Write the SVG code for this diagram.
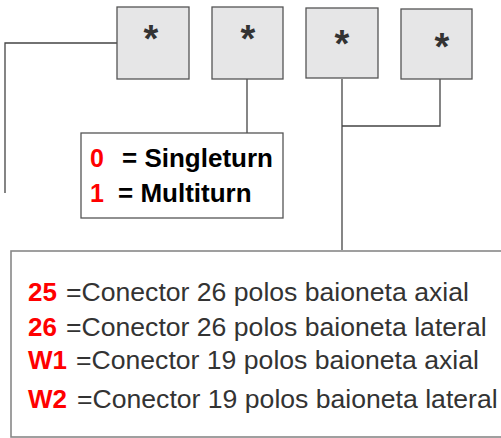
<svg xmlns="http://www.w3.org/2000/svg" width="501" height="438" viewBox="0 0 501 438">
  <style>
    .digit { fill: #e6e6e7; stroke: #555; stroke-width: 1.3; }
    .star { font-family: "Liberation Sans", Arial, sans-serif; font-weight: bold; font-size: 38px; fill: #333; text-anchor: middle; }
    .wire { fill: none; stroke: #444; stroke-width: 1.3; }
    .legend { fill: #fff; stroke: #555; stroke-width: 1.3; }
    .legend2 { fill: #fff; stroke: #888; stroke-width: 1.6; }
    .code { font-family: "Liberation Sans", Arial, sans-serif; font-weight: bold; fill: #ff0000; }
    .bold { font-family: "Liberation Sans", Arial, sans-serif; font-weight: bold; fill: #000; font-size: 26px; }
    .desc { font-family: "Liberation Sans", Arial, sans-serif; fill: #333; font-size: 26.6px; }
  </style>

  <!-- connectors -->
  <g id="connectors">
    <polyline class="wire" points="117,43 5,43 5,193"/>
    <line class="wire" x1="247" y1="79" x2="247" y2="133"/>
    <line class="wire" x1="342" y1="79" x2="342" y2="250"/>
    <polyline class="wire" points="440,79 440,126 342,126"/>
  </g>

  <!-- code position boxes -->
  <g id="pos1">
    <rect class="digit" x="117" y="7" width="72" height="72"/>
    <text class="star" x="151" y="52">*</text>
  </g>
  <g id="pos2">
    <rect class="digit" x="212" y="7" width="71" height="72"/>
    <text class="star" x="248" y="52">*</text>
  </g>
  <g id="pos3">
    <rect class="digit" x="306" y="8" width="72" height="70"/>
    <text class="star" x="342" y="57">*</text>
  </g>
  <g id="pos4">
    <rect class="digit" x="401" y="9" width="71" height="70"/>
    <text class="star" x="442" y="60">*</text>
  </g>

  <!-- turn type legend -->
  <g id="turns">
    <rect class="legend" x="81" y="133" width="202" height="85"/>
    <text class="code" x="90" y="167" font-size="25">0</text>
    <text class="bold" x="122" y="167">= Singleturn</text>
    <text class="code" x="90" y="202" font-size="25">1</text>
    <text class="bold" x="118" y="202">= Multiturn</text>
  </g>

  <!-- connector legend -->
  <g id="connectors-legend">
    <rect class="legend2" x="11" y="251" width="500" height="186"/>
    <text class="code" x="28" y="301" font-size="26">25</text>
    <text class="desc" x="66" y="301">=Conector 26 polos baioneta axial</text>
    <text class="code" x="28" y="336" font-size="26">26</text>
    <text class="desc" x="66" y="336">=Conector 26 polos baioneta lateral</text>
    <text class="code" x="28" y="369" font-size="26">W1</text>
    <text class="desc" x="76" y="369">=Conector 19 polos baioneta axial</text>
    <text class="code" x="28" y="408" font-size="26">W2</text>
    <text class="desc" x="77" y="408">=Conector 19 polos baioneta lateral</text>
  </g>
</svg>
